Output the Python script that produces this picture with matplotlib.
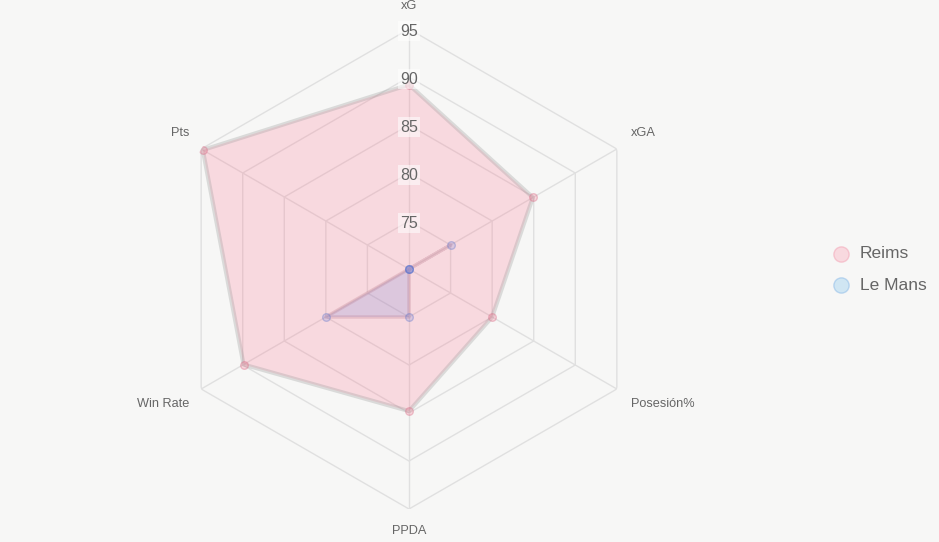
import numpy as np
import matplotlib
matplotlib.use("Agg")
import matplotlib.pyplot as plt
import matplotlib.transforms as mtransforms
from matplotlib.lines import Line2D

plt.rcParams['font.family'] = ['Liberation Sans', 'DejaVu Sans']

categories = ['xG', 'xGA', 'Posesión%', 'PPDA', 'Win Rate', 'Pts']
reims = [89.2, 84.9, 80.0, 84.8, 89.9, 94.8]
le_mans = [70.0, 75.0, 70.0, 75.0, 80.0, 70.0]
ticks = [75, 80, 85, 90, 95]
r_min, r_max = 70, 95
series_names = ['Reims', 'Le Mans']

bg = '#f7f7f6'
W, H = 939, 542
fig = plt.figure(figsize=(W / 100, H / 100), dpi=100, facecolor=bg)

cx, cy, R = 409, 269, 240
ax = fig.add_axes([(cx - R) / W, (H - cy - R) / H, 2 * R / W, 2 * R / H], projection='polar')
ax.set_facecolor('none')
ax.set_theta_offset(np.pi / 2)
ax.set_theta_direction(-1)
ax.set_ylim(r_min, r_max)
ax.grid(False)
ax.spines['polar'].set_visible(False)
ax.set_xticks([])
ax.set_yticks([])

n = len(categories)
angles = np.arange(n) * 2 * np.pi / n
closed = np.append(angles, angles[0])

# hexagonal grid
grid_c = '#e0e0e0'
for t in ticks:
    ax.plot(closed, [t] * (n + 1), color=grid_c, lw=1, zorder=1)
for a in angles:
    ax.plot([a, a], [r_min, r_max], color=grid_c, lw=1, zorder=1)

# Reims
rv = np.append(reims, reims[0])
ax.fill(closed, rv, color=(1, 0.388, 0.518, 0.2), zorder=2, lw=0)
ax.plot(closed, rv, color=(0.62, 0.62, 0.62, 0.32), lw=3, zorder=3)
ax.scatter(angles, reims, s=30, facecolor=(1, 0.388, 0.518, 0.22),
           edgecolor=(0.85, 0.45, 0.55, 0.4), lw=1, zorder=4)

# Le Mans
lv = np.append(le_mans, le_mans[0])
ax.fill(closed, lv, color=(0.33, 0.45, 0.85, 0.17), zorder=5, lw=0)
ax.plot(closed, lv, color=(0.75, 0.5, 0.58, 0.3), lw=2.5, zorder=6)
ax.scatter(angles, le_mans, s=30, facecolor=(0.35, 0.45, 0.85, 0.18),
           edgecolor=(0.35, 0.45, 0.8, 0.35), lw=1, zorder=7)

# radial tick labels
tick_tr = mtransforms.offset_copy(ax.transData, fig=fig, x=0, y=-2, units='dots')
for t in ticks:
    ax.text(0, t, str(t), ha='center', va='center', fontsize=11.5, color='#666666',
            zorder=8, transform=tick_tr,
            bbox=dict(boxstyle='square,pad=0.15', fc=(1, 1, 1, 0.55), ec='none'))

# category labels (pixel offsets from center)
lab_pos = [
    (0, -263, 'center'),
    (222, -136, 'left'),
    (222, 135, 'left'),
    (0, 262, 'center'),
    (-220, 135, 'right'),
    (-220, -136, 'right'),
]
for (dx, dy, ha), name in zip(lab_pos, categories):
    fig.text((cx + dx) / W, (H - cy - dy) / H, name, ha=ha, va='center',
             fontsize=9.2, color='#666666')

# legend
leg_cols = [((1, 0.388, 0.518, 0.2), (0.95, 0.6, 0.68, 0.45)),
            ((0.21, 0.635, 0.92, 0.2), (0.5, 0.7, 0.9, 0.45))]
for i, (name, (fc, ec)) in enumerate(zip(series_names, leg_cols)):
    y = 254 + i * 31
    fig.add_artist(Line2D([841 / W], [(H - y) / H], marker='o', markersize=11,
                          markerfacecolor=fc, markeredgecolor=ec, lw=0,
                          transform=fig.transFigure))
    fig.text(860 / W, (H - y) / H, name, ha='left', va='center', fontsize=12.5,
             color='#666666')

fig.savefig('out.png', dpi=100, facecolor=bg)
